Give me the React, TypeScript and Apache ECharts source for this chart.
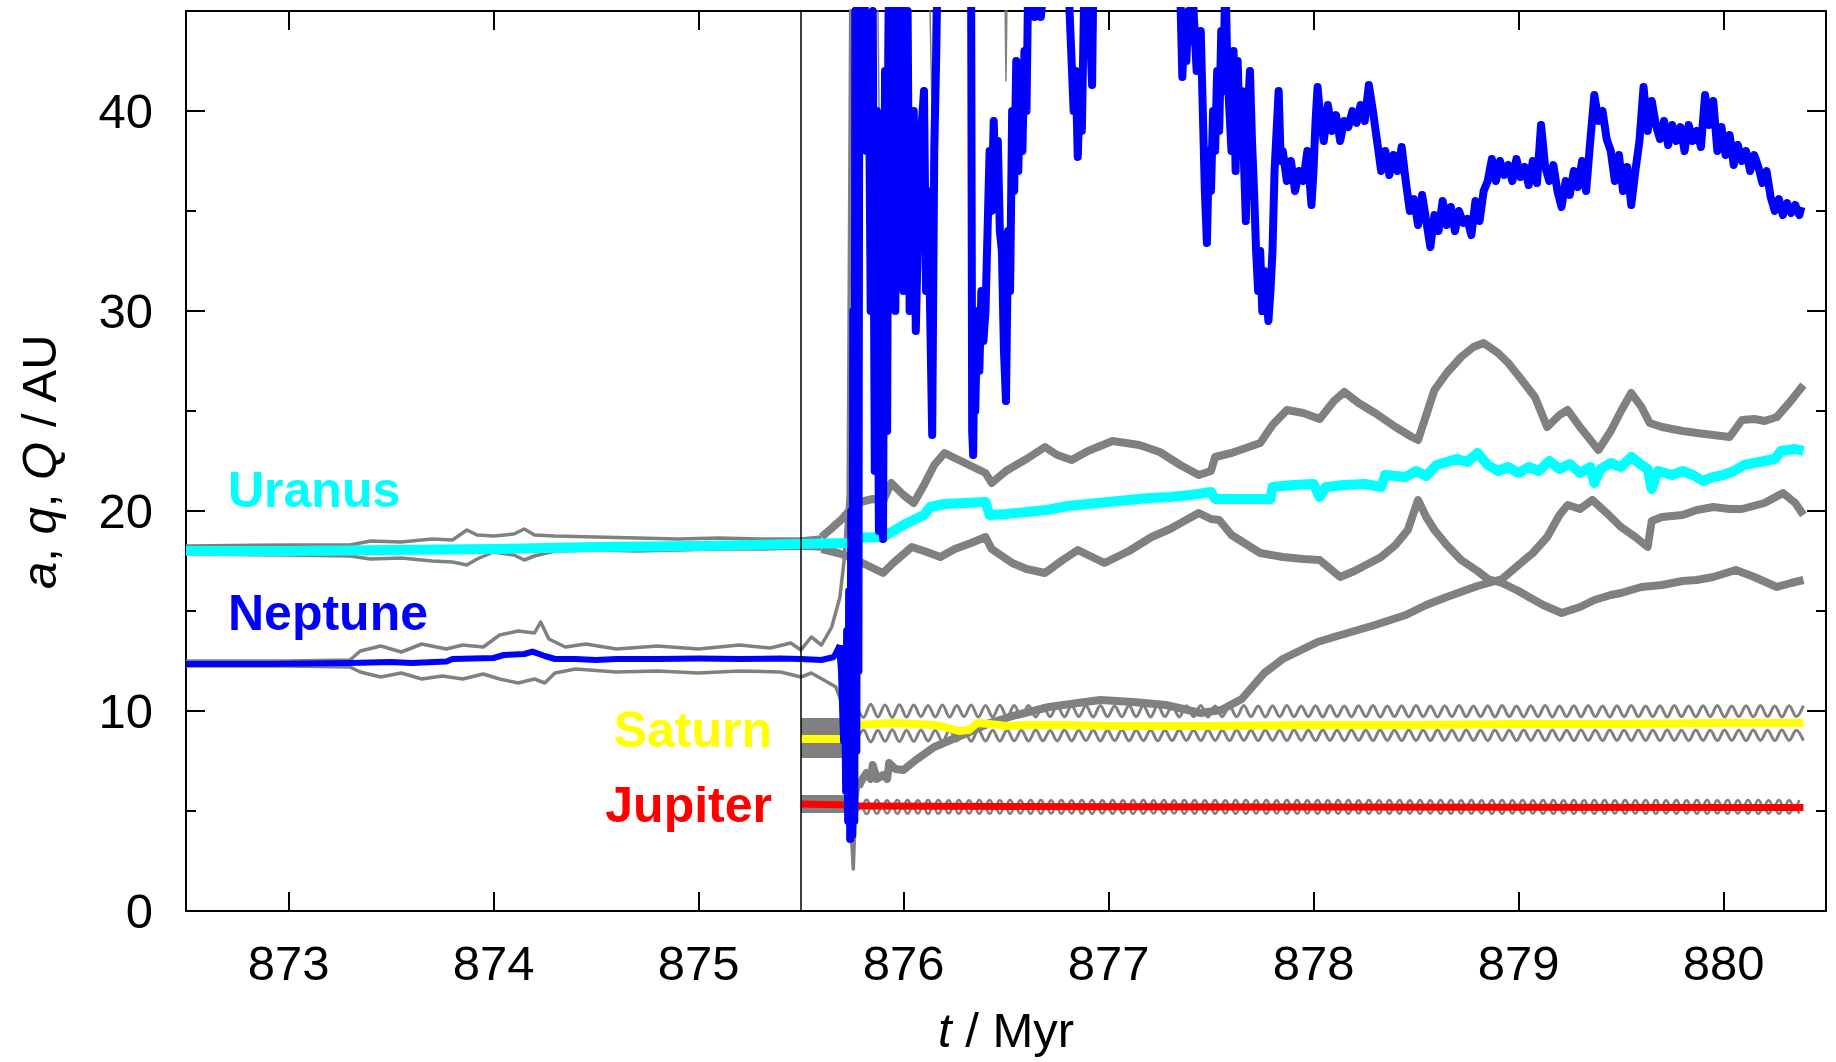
import React, { useEffect, useRef } from "react";
import * as echarts from "echarts";

type P = [number, number];

const FONT = "Liberation Sans";

// ---- axes ----
const xMin = 872.5;
const xMax = 880.5;
const xTicks = [873, 874, 875, 876, 877, 878, 879, 880];
const yMin = 0;
const yMax = 45;
const yLabelValues = [0, 10, 20, 30, 40];
const instabilityTime = 875.5;

// ---- Uranus ----
const uranusA: P[] = [
  [872.5, 18.0], [873.0, 18.0], [873.5, 18.05], [874.0, 18.1], [874.5, 18.2], [875.0, 18.25], [875.5, 18.35], [875.74, 18.4],
  [875.76, 18.65], [875.9, 18.7], [875.95, 19.0], [876.0, 19.3], [876.05, 19.55], [876.1, 19.8], [876.13, 20.2], [876.2, 20.35],
  [876.3, 20.4], [876.4, 20.45], [876.42, 19.8], [876.5, 19.85], [876.6, 19.95], [876.7, 20.05], [876.8, 20.25], [876.9, 20.35],
  [877.0, 20.45], [877.1, 20.55], [877.2, 20.65], [877.3, 20.7], [877.4, 20.8], [877.5, 20.95], [877.52, 20.6], [877.6, 20.6],
  [877.7, 20.6], [877.79, 20.6], [877.8, 21.2], [877.9, 21.3], [878.0, 21.35], [878.03, 20.7], [878.06, 21.2], [878.15, 21.3],
  [878.25, 21.35], [878.33, 21.2], [878.35, 21.8], [878.45, 21.7], [878.5, 22.0], [878.55, 21.75], [878.6, 22.3], [878.65, 22.45],
  [878.7, 22.6], [878.75, 22.45], [878.8, 22.9], [878.85, 22.3], [878.9, 22.0], [878.95, 22.2], [879.0, 21.9], [879.05, 22.2],
  [879.1, 22.0], [879.15, 22.5], [879.2, 22.1], [879.25, 22.35], [879.3, 21.9], [879.35, 22.2], [879.37, 21.4], [879.4, 22.1],
  [879.45, 22.4], [879.5, 22.2], [879.55, 22.7], [879.6, 22.3], [879.63, 22.1], [879.65, 21.1], [879.68, 22.0], [879.75, 21.8],
  [879.8, 22.0], [879.85, 21.8], [879.9, 21.5], [879.95, 21.7], [880.0, 21.8], [880.05, 22.0], [880.1, 22.3], [880.15, 22.4],
  [880.2, 22.5], [880.25, 22.6], [880.28, 23.0], [880.35, 23.1], [880.39, 23.0],
];
const uranusQBefore: P[] = [
  [872.5, 18.25], [873.0, 18.3], [873.3, 18.3], [873.4, 18.5], [873.55, 18.45], [873.7, 18.6], [873.8, 18.55], [873.87, 19.05],
  [873.92, 18.8], [874.0, 18.75], [874.1, 18.85], [874.15, 19.1], [874.2, 18.8], [874.3, 18.75], [874.5, 18.7], [874.7, 18.65],
  [874.9, 18.6], [875.1, 18.65], [875.3, 18.6], [875.5, 18.6], [875.6, 18.7],
];
const uranusQAfter: P[] = [
  [875.6, 18.7], [875.64, 19.05], [875.7, 19.6], [875.77, 20.4], [875.85, 20.6], [875.9, 20.5], [875.94, 21.4], [876.0, 20.8],
  [876.05, 20.4], [876.1, 21.3], [876.15, 22.3], [876.2, 22.9], [876.3, 22.4], [876.4, 21.9], [876.43, 21.4], [876.5, 22.0],
  [876.6, 22.6], [876.69, 23.2], [876.75, 22.8], [876.82, 22.55], [876.9, 23.0], [877.02, 23.5], [877.15, 23.3], [877.25, 22.95],
  [877.35, 22.3], [877.44, 21.8], [877.5, 22.0], [877.52, 22.7], [877.6, 22.9], [877.74, 23.4], [877.8, 24.3], [877.87, 25.05],
  [877.95, 24.9], [878.03, 24.6], [878.1, 25.5], [878.15, 25.95], [878.22, 25.4], [878.3, 24.9], [878.4, 24.2], [878.48, 23.7],
  [878.51, 23.55], [878.55, 24.8], [878.59, 26.05], [878.65, 26.9], [878.72, 27.7], [878.78, 28.2], [878.83, 28.4], [878.9, 27.9],
  [878.95, 27.4], [879.02, 26.5], [879.08, 25.7], [879.14, 24.2], [879.2, 24.8], [879.24, 25.05], [879.3, 24.2], [879.39, 23.05],
  [879.45, 24.0], [879.5, 25.0], [879.55, 25.9], [879.6, 25.2], [879.64, 24.4], [879.7, 24.2], [879.8, 24.0], [879.87, 23.9],
  [879.95, 23.8], [880.03, 23.7], [880.09, 24.55], [880.15, 24.6], [880.2, 24.5], [880.26, 24.7], [880.32, 25.4], [880.39, 26.3],
];
const uranusqBefore: P[] = [
  [872.5, 17.85], [873.0, 17.8], [873.3, 17.75], [873.4, 17.6], [873.55, 17.65], [873.7, 17.5], [873.8, 17.45], [873.87, 17.3],
  [873.92, 17.6], [874.0, 17.95], [874.1, 17.8], [874.15, 17.55], [874.2, 17.75], [874.3, 18.0], [874.5, 18.05], [874.7, 18.0],
  [874.9, 18.05], [875.1, 18.1], [875.3, 18.1], [875.5, 18.15], [875.6, 18.1],
];
const uranusqAfter: P[] = [
  [875.6, 18.1], [875.68, 17.9], [875.74, 17.7], [875.8, 17.4], [875.87, 17.05], [875.9, 16.9], [875.95, 17.4], [876.04, 18.2],
  [876.1, 18.0], [876.18, 17.7], [876.25, 18.1], [876.33, 18.4], [876.4, 18.7], [876.43, 18.1], [876.53, 17.4], [876.6, 17.1],
  [876.69, 16.9], [876.77, 17.5], [876.85, 18.05], [876.92, 17.7], [876.98, 17.4], [877.1, 18.0], [877.21, 18.7], [877.3, 19.1],
  [877.44, 19.9], [877.5, 19.6], [877.54, 19.55], [877.6, 18.8], [877.74, 17.9], [877.85, 17.7], [877.95, 17.6], [878.03, 17.55],
  [878.13, 16.7], [878.2, 17.0], [878.33, 17.7], [878.4, 18.3], [878.46, 19.05], [878.51, 20.55], [878.55, 19.7], [878.59, 19.05],
  [878.65, 18.3], [878.72, 17.55], [878.8, 17.0], [878.85, 16.6], [878.92, 16.4], [879.0, 16.0], [879.05, 15.7], [879.12, 15.3],
  [879.21, 14.9], [879.3, 15.2], [879.37, 15.55], [879.45, 15.8], [879.5, 15.9], [879.6, 16.2], [879.7, 16.3], [879.8, 16.5],
  [879.87, 16.55], [879.95, 16.7], [880.06, 17.05], [880.15, 16.7], [880.26, 16.2], [880.33, 16.4], [880.39, 16.55],
];

// ---- Neptune ----
const neptuneABefore: P[] = [
  [872.5, 12.35], [872.9, 12.35], [873.3, 12.4], [873.5, 12.45], [873.6, 12.4], [873.77, 12.47], [873.8, 12.6], [874.0, 12.65],
  [874.05, 12.8], [874.15, 12.85], [874.19, 12.97], [874.25, 12.75], [874.3, 12.6], [874.4, 12.6], [874.5, 12.55], [874.6, 12.6],
  [874.8, 12.6], [875.0, 12.62], [875.2, 12.6], [875.4, 12.62], [875.5, 12.6], [875.6, 12.55], [875.66, 12.7], [875.69, 13.3],
];
const neptuneAAfter: P[] = [
  [875.69, 13.3], [875.7, 12.0], [875.71, 8.5], [875.715, 13], [875.72, 6], [875.725, 14], [875.73, 4.5], [875.735, 16], [875.74, 3.6],
  [875.745, 20], [875.75, 3.8], [875.755, 30], [875.76, 4.5], [875.765, 45], [875.77, 8], [875.775, 50], [875.78, 12],
  [875.785, 50], [875.79, 48], [875.8, 40], [875.81, 46], [875.82, 38], [875.83, 44], [875.84, 30], [875.85, 45],
  [875.86, 22], [875.87, 40], [875.88, 19], [875.89, 35], [875.9, 18.6], [875.91, 42], [875.92, 24], [875.93, 50],
  [875.94, 32], [875.95, 46], [875.96, 30], [875.97, 44], [875.98, 33], [875.99, 48], [876.0, 31], [876.02, 45],
  [876.03, 30], [876.05, 40], [876.06, 29], [876.08, 38], [876.1, 41], [876.11, 31], [876.12, 36], [876.14, 23.8],
  [876.15, 38], [876.16, 43], [876.17, 50], [876.2, 55], [876.3, 55], [876.33, 46], [876.335, 24], [876.34, 22.8],
  [876.345, 28], [876.35, 25], [876.36, 30], [876.37, 27], [876.38, 31], [876.39, 28.5], [876.4, 30], [876.41, 34],
  [876.42, 38], [876.43, 35], [876.44, 39.5], [876.45, 36], [876.46, 38.5], [876.47, 34], [876.48, 33], [876.49, 28],
  [876.5, 25.5], [876.51, 34], [876.52, 31], [876.53, 40], [876.54, 36], [876.55, 42.5], [876.56, 37], [876.57, 42],
  [876.58, 38], [876.59, 43], [876.6, 40], [876.61, 48], [876.62, 50], [876.64, 44.7], [876.65, 47], [876.67, 44.7],
  [876.69, 47], [876.72, 55], [876.8, 55], [876.81, 45], [876.83, 40], [876.84, 42], [876.85, 37.7], [876.86, 41],
  [876.87, 39], [876.88, 45], [876.89, 50], [876.91, 44], [876.92, 41.3], [876.93, 50], [876.95, 55], [877.3, 55],
  [877.35, 46], [877.36, 41.7], [877.37, 44], [877.38, 42.5], [877.39, 45], [877.4, 43.5], [877.41, 46], [877.43, 42],
  [877.45, 44], [877.46, 40], [877.47, 36], [877.48, 33.4], [877.49, 38], [877.5, 36], [877.51, 40], [877.52, 38],
  [877.53, 42], [877.54, 39], [877.55, 44], [877.56, 41], [877.57, 47], [877.58, 42], [877.6, 38], [877.61, 43],
  [877.62, 37], [877.63, 42.5], [877.64, 39], [877.65, 41], [877.67, 34.5], [877.68, 40], [877.69, 42], [877.7, 38.5],
  [877.71, 36], [877.72, 33], [877.73, 31], [877.74, 33], [877.75, 30], [877.76, 32], [877.78, 29.5], [877.79, 31],
  [877.8, 33], [877.81, 37], [877.82, 39], [877.83, 41], [877.84, 37.5], [877.85, 38], [877.87, 36.5], [877.89, 37.5],
  [877.91, 36], [877.93, 37], [877.95, 36.5], [877.97, 38], [877.99, 35.3], [878.0, 37], [878.01, 39.5], [878.02, 41.2],
  [878.03, 40], [878.05, 38.5], [878.07, 40.3], [878.09, 39], [878.11, 39.8], [878.13, 38.5], [878.15, 39.5], [878.17, 39.2],
  [878.19, 40], [878.21, 39.4], [878.23, 40.3], [878.25, 39.5], [878.27, 41.3], [878.29, 40], [878.31, 38.5], [878.33, 37],
  [878.35, 38], [878.37, 36.8], [878.39, 37.8], [878.41, 37], [878.43, 38.2], [878.45, 36.5], [878.47, 35], [878.49, 35.6],
  [878.51, 34.3], [878.53, 35.8], [878.55, 34.5], [878.57, 33.2], [878.59, 34.8], [878.61, 34], [878.63, 35.5], [878.65, 34.3],
  [878.67, 35.2], [878.69, 34], [878.71, 35], [878.73, 34.4], [878.75, 34.6], [878.77, 33.8], [878.79, 35.5], [878.81, 34.5],
  [878.83, 36], [878.85, 36.5], [878.87, 37.6], [878.89, 36.5], [878.91, 37.5], [878.93, 36.8], [878.95, 37.3], [878.97, 36.5],
  [878.99, 37.6], [879.01, 36.7], [879.03, 37.2], [879.05, 36.3], [879.07, 37.5], [879.09, 36.4], [879.11, 39.3], [879.13, 37.2],
  [879.15, 36.5], [879.17, 37.3], [879.19, 36], [879.21, 35.2], [879.23, 36.5], [879.25, 35.8], [879.27, 37], [879.29, 36.2],
  [879.31, 37.5], [879.33, 36], [879.35, 38.5], [879.37, 40.8], [879.39, 39.5], [879.41, 40], [879.43, 38.6], [879.45, 38],
  [879.47, 36.5], [879.49, 37.8], [879.51, 36], [879.53, 37.2], [879.55, 35.3], [879.57, 37], [879.59, 38.5], [879.61, 41.2],
  [879.63, 39], [879.65, 40.5], [879.67, 39.3], [879.69, 38.6], [879.71, 39.5], [879.73, 38.3], [879.75, 39.3], [879.77, 38.5],
  [879.79, 39.2], [879.81, 38], [879.83, 39.3], [879.85, 38.5], [879.87, 39], [879.89, 38.2], [879.91, 40.8], [879.93, 39.3],
  [879.95, 40.5], [879.97, 38], [879.99, 39.2], [880.01, 37.8], [880.03, 38.8], [880.05, 37.3], [880.07, 38.3], [880.09, 37.5],
  [880.11, 38], [880.13, 37], [880.15, 37.8], [880.17, 37.2], [880.19, 36.4], [880.21, 37], [880.23, 35.7], [880.25, 35],
  [880.27, 35.6], [880.29, 34.8], [880.31, 35.4], [880.33, 34.9], [880.35, 35.3], [880.37, 34.8], [880.38, 35.2],
];
const neptuneQBefore: P[] = [
  [872.5, 12.5], [873.0, 12.5], [873.3, 12.55], [873.35, 13.0], [873.45, 13.25], [873.55, 12.95], [873.65, 13.35], [873.77, 13.1],
  [873.85, 13.3], [873.95, 13.2], [874.03, 13.8], [874.12, 14.0], [874.2, 13.9], [874.23, 14.45], [874.27, 13.6], [874.35, 13.2],
  [874.45, 13.35], [874.6, 13.1], [874.8, 13.25], [875.0, 13.1], [875.2, 13.3], [875.35, 13.15], [875.45, 13.4], [875.5, 13.05],
  [875.55, 13.7], [875.6, 13.3], [875.65, 14.2], [875.69, 15.7], [875.71, 17.5], [875.73, 20.8], [875.745, 50],
];
const neptuneQSpikes: P[] = [
  [875.87, 50], [875.89, 31.5], [875.92, 50], [876.12, 50], [876.14, 39.5], [876.15, 50], [876.49, 50], [876.5, 41.5], [876.51, 50],
];
const neptuneqBefore: P[] = [
  [872.5, 12.25], [873.0, 12.25], [873.3, 12.2], [873.35, 11.95], [873.45, 11.7], [873.55, 11.9], [873.65, 11.6], [873.75, 11.75],
  [873.85, 11.6], [873.95, 11.85], [874.03, 11.6], [874.12, 11.4], [874.2, 11.6], [874.25, 11.4], [874.3, 11.9], [874.4, 12.1],
  [874.6, 11.95], [874.8, 12.0], [875.0, 11.9], [875.2, 12.0], [875.4, 11.95], [875.5, 11.7], [875.55, 11.9], [875.62, 11.5],
  [875.67, 11.2], [875.7, 10.4], [875.72, 8.7], [875.735, 6.5], [875.745, 4], [875.755, 2.1], [875.765, 5], [875.78, 6.2],
];
const neptuneqAfter: P[] = [
  [875.78, 6.2], [875.8, 6.6], [875.82, 6.9], [875.84, 6.6], [875.85, 7.3], [875.87, 6.6], [875.9, 6.8], [875.92, 6.6],
  [875.93, 7.4], [875.96, 7.1], [876.0, 7.05], [876.06, 7.55], [876.15, 8.2], [876.23, 8.55], [876.31, 8.9], [876.42, 9.4],
  [876.55, 9.8], [876.71, 10.2], [876.85, 10.4], [876.96, 10.55], [877.12, 10.45], [877.28, 10.3], [877.45, 9.9], [877.55, 10.05],
  [877.65, 10.6], [877.76, 11.9], [877.85, 12.6], [877.95, 13.1], [878.02, 13.45], [878.1, 13.7], [878.2, 14.0], [878.3, 14.3],
  [878.45, 14.8], [878.55, 15.3], [878.65, 15.7], [878.8, 16.25], [878.92, 16.6], [879.0, 17.3], [879.07, 17.9], [879.14, 18.7],
  [879.2, 19.8], [879.24, 20.3], [879.3, 20.1], [879.36, 20.55], [879.43, 19.9], [879.5, 19.2], [879.57, 18.7], [879.63, 18.2],
  [879.65, 19.5], [879.7, 19.7], [879.8, 19.8], [879.87, 20.05], [879.95, 20.2], [880.03, 20.1], [880.09, 20.1], [880.2, 20.4],
  [880.29, 20.9], [880.35, 20.4], [880.39, 19.8],
];

// ---- Saturn ----
const saturnABefore: P[] = [[875.5, 8.6], [875.72, 8.6]];
const saturnBandBefore: P[] = [[875.5, 8.65], [875.715, 8.65]];
const saturnAAfter: P[] = [
  [875.77, 9.3], [875.85, 9.35], [875.95, 9.4], [876.05, 9.35], [876.15, 9.3], [876.2, 9.2], [876.27, 9.0], [876.32, 9.05],
  [876.36, 9.4], [876.42, 9.35], [876.5, 9.25], [876.6, 9.3], [876.75, 9.3], [877.0, 9.25], [877.5, 9.25], [878.0, 9.3],
  [878.5, 9.3], [879.0, 9.35], [879.5, 9.35], [880.0, 9.4], [880.39, 9.4],
];
const saturnWaveStart = 875.77;
const saturnWaveStep = 0.035;
const saturnQWave = [
  10.32, 9.68, 10.34, 9.70, 10.30, 9.68, 10.31, 9.70, 10.30, 9.72,
  10.28, 9.70, 10.30, 9.70, 10.27, 9.72, 10.30, 9.70, 10.28, 9.71,
  10.29, 9.70, 10.27, 9.72, 10.28, 9.70, 10.26, 9.72, 10.27, 9.71,
  10.28, 9.72, 10.26, 9.70, 10.27, 9.72, 10.25, 9.71, 10.27, 9.72,
  10.26, 9.70, 10.27, 9.72, 10.25, 9.71, 10.26, 9.72, 10.27, 9.70,
  10.25, 9.72, 10.26, 9.71, 10.27, 9.72, 10.25, 9.70, 10.26, 9.72,
  10.27, 9.71, 10.25, 9.72, 10.26, 9.70, 10.27, 9.72, 10.25, 9.71,
  10.26, 9.72, 10.27, 9.70, 10.25, 9.72, 10.26, 9.71, 10.27, 9.72,
  10.25, 9.70, 10.26, 9.72, 10.27, 9.71, 10.25, 9.72, 10.26, 9.70,
  10.27, 9.72, 10.25, 9.71, 10.26, 9.72, 10.27, 9.70, 10.25, 9.72,
  10.26, 9.71, 10.27, 9.72, 10.25, 9.70, 10.26, 9.72, 10.27, 9.71,
  10.25, 9.72, 10.26, 9.70, 10.27, 9.72, 10.25, 9.71, 10.26, 9.72,
  10.27, 9.70, 10.25, 9.72, 10.26, 9.71, 10.27, 9.72, 10.25, 9.70,
  10.26, 9.72, 10.27,
];
const saturnqWave = [
  8.46, 9.05, 8.45, 9.04, 8.48, 9.06, 8.47, 9.04, 8.48, 9.05,
  8.50, 9.04, 8.48, 9.05, 8.50, 9.03, 8.49, 9.05, 8.50, 9.04,
  8.49, 9.05, 8.51, 9.04, 8.50, 9.05, 8.51, 9.03, 8.50, 9.05,
  8.51, 9.04, 8.52, 9.05, 8.50, 9.04, 8.52, 9.05, 8.51, 9.04,
  8.52, 9.05, 8.51, 9.04, 8.52, 9.05, 8.53, 9.04, 8.52, 9.05,
  8.53, 9.04, 8.52, 9.05, 8.53, 9.04, 8.52, 9.05, 8.53, 9.04,
  8.52, 9.05, 8.53, 9.04, 8.52, 9.05, 8.53, 9.04, 8.52, 9.05,
  8.53, 9.04, 8.52, 9.05, 8.53, 9.04, 8.52, 9.05, 8.53, 9.04,
  8.52, 9.05, 8.53, 9.04, 8.52, 9.05, 8.53, 9.04, 8.52, 9.05,
  8.53, 9.04, 8.52, 9.05, 8.53, 9.04, 8.52, 9.05, 8.53, 9.04,
  8.52, 9.05, 8.53, 9.04, 8.52, 9.05, 8.53, 9.04, 8.52, 9.05,
  8.53, 9.04, 8.52, 9.05, 8.53, 9.04, 8.52, 9.05, 8.53, 9.04,
  8.52, 9.05, 8.53, 9.04, 8.52, 9.05, 8.53, 9.04, 8.52, 9.05,
  8.53, 9.04, 8.52,
];

// ---- Jupiter ----
const jupiterABefore: P[] = [[875.5, 5.35], [875.74, 5.3]];
const jupiterBandBefore: P[] = [[875.5, 5.35], [875.725, 5.35]];
const jupiterAAfter: P[] = [[875.76, 5.25], [876.5, 5.22], [878.0, 5.2], [880.39, 5.18]];
const jupiterWaveStart = 875.77;
const jupiterWaveStep = 0.025;
const jupiterQWave = [
  5.55, 5.21, 5.56, 5.20, 5.55, 5.21, 5.54, 5.20, 5.55, 5.21,
  5.55, 5.20, 5.54, 5.21, 5.55, 5.20, 5.55, 5.21, 5.54, 5.20,
  5.55, 5.21, 5.54, 5.20, 5.55, 5.21, 5.55, 5.20, 5.54, 5.21,
  5.55, 5.20, 5.54, 5.21, 5.55, 5.20, 5.55, 5.21, 5.54, 5.20,
  5.55, 5.21, 5.54, 5.20, 5.55, 5.21, 5.55, 5.20, 5.54, 5.21,
  5.55, 5.20, 5.54, 5.21, 5.55, 5.20, 5.55, 5.21, 5.54, 5.20,
  5.55, 5.21, 5.54, 5.20, 5.55, 5.21, 5.55, 5.20, 5.54, 5.21,
  5.55, 5.20, 5.54, 5.21, 5.55, 5.20, 5.55, 5.21, 5.54, 5.20,
  5.55, 5.21, 5.54, 5.20, 5.55, 5.21, 5.55, 5.20, 5.54, 5.21,
  5.55, 5.20, 5.54, 5.21, 5.55, 5.20, 5.55, 5.21, 5.54, 5.20,
  5.55, 5.21, 5.54, 5.20, 5.55, 5.21, 5.55, 5.20, 5.54, 5.21,
  5.55, 5.20, 5.54, 5.21, 5.55, 5.20, 5.55, 5.21, 5.54, 5.20,
  5.55, 5.21, 5.54, 5.20, 5.55, 5.21, 5.55, 5.20, 5.54, 5.21,
  5.55, 5.20, 5.54, 5.21, 5.55, 5.20, 5.55, 5.21, 5.54, 5.20,
  5.55, 5.21, 5.54, 5.20, 5.55, 5.21, 5.55, 5.20, 5.54, 5.21,
  5.55, 5.20, 5.54, 5.21, 5.55, 5.20, 5.55, 5.21, 5.54, 5.20,
  5.55, 5.21, 5.54, 5.20, 5.55, 5.21, 5.55, 5.20, 5.54, 5.21,
  5.55, 5.20, 5.54, 5.21, 5.55, 5.20, 5.55, 5.21, 5.54, 5.20,
  5.55, 5.21, 5.54, 5.20, 5.55,
];
const jupiterqWave = [
  4.86, 5.19, 4.85, 5.20, 4.86, 5.19, 4.87, 5.20, 4.86, 5.19,
  4.86, 5.20, 4.87, 5.19, 4.86, 5.20, 4.86, 5.19, 4.87, 5.20,
  4.86, 5.19, 4.87, 5.20, 4.86, 5.19, 4.86, 5.20, 4.87, 5.19,
  4.86, 5.20, 4.87, 5.19, 4.86, 5.20, 4.86, 5.19, 4.87, 5.20,
  4.86, 5.19, 4.87, 5.20, 4.86, 5.19, 4.86, 5.20, 4.87, 5.19,
  4.86, 5.20, 4.87, 5.19, 4.86, 5.20, 4.86, 5.19, 4.87, 5.20,
  4.86, 5.19, 4.87, 5.20, 4.86, 5.19, 4.86, 5.20, 4.87, 5.19,
  4.86, 5.20, 4.87, 5.19, 4.86, 5.20, 4.86, 5.19, 4.87, 5.20,
  4.86, 5.19, 4.87, 5.20, 4.86, 5.19, 4.86, 5.20, 4.87, 5.19,
  4.86, 5.20, 4.87, 5.19, 4.86, 5.20, 4.86, 5.19, 4.87, 5.20,
  4.86, 5.19, 4.87, 5.20, 4.86, 5.19, 4.86, 5.20, 4.87, 5.19,
  4.86, 5.20, 4.87, 5.19, 4.86, 5.20, 4.86, 5.19, 4.87, 5.20,
  4.86, 5.19, 4.87, 5.20, 4.86, 5.19, 4.86, 5.20, 4.87, 5.19,
  4.86, 5.20, 4.87, 5.19, 4.86, 5.20, 4.86, 5.19, 4.87, 5.20,
  4.86, 5.19, 4.87, 5.20, 4.86, 5.19, 4.86, 5.20, 4.87, 5.19,
  4.86, 5.20, 4.87, 5.19, 4.86, 5.20, 4.86, 5.19, 4.87, 5.20,
  4.86, 5.19, 4.87, 5.20, 4.86, 5.19, 4.86, 5.20, 4.87, 5.19,
  4.86, 5.20, 4.87, 5.19, 4.86, 5.20, 4.86, 5.19, 4.87, 5.20,
  4.86, 5.19, 4.87, 5.20, 4.86,
];

// ---- labels ----
const planetLabels = [
  { name: "Uranus", color: "#00ffff" },
  { name: "Neptune", color: "#0000ff" },
  { name: "Saturn", color: "#ffff00" },
  { name: "Jupiter", color: "#ff0000" },
];

const GREY = "#808080";

function sampled(start: number, step: number, values: number[]): P[] {
  return values.map((v, i) => [start + i * step, v] as P);
}

function lineSeries(data: P[], color: string, width: number, extra: any = {}) {
  return {
    type: "line",
    data,
    showSymbol: false,
    symbol: "none",
    silent: true,
    animation: false,
    clip: true,
    emphasis: { disabled: true },
    lineStyle: { color, width, cap: "butt", join: "round" },
    itemStyle: { color },
    z: 2,
    ...extra,
  };
}

function yAxisDef(position: string, interval: number, tickLen: number, showLine: boolean, showLabel: boolean) {
  return {
    type: "value",
    min: yMin,
    max: yMax,
    interval,
    position,
    axisLine: { show: showLine, onZero: false, lineStyle: { color: "#000", width: 2 } },
    axisTick: { show: true, inside: true, length: tickLen, lineStyle: { color: "#000", width: 2 } },
    axisLabel: {
      show: showLabel,
      margin: 33,
      fontSize: 49,
      fontFamily: FONT,
      color: "#000",
      formatter: (v: number) => (yLabelValues.includes(v) ? String(v) : ""),
    },
    splitLine: { show: false },
  };
}

function xAxisDef(position: string, showLabel: boolean) {
  return {
    type: "value",
    min: xMin,
    max: xMax,
    position,
    axisLine: { show: true, onZero: false, lineStyle: { color: "#000", width: 2 } },
    axisTick: { show: true, inside: true, length: 19, customValues: xTicks, lineStyle: { color: "#000", width: 2 } },
    axisLabel: { show: showLabel, customValues: xTicks, margin: 27, fontSize: 49, fontFamily: FONT, color: "#000" },
    splitLine: { show: false },
  };
}

export default function App() {
  const ref = useRef<HTMLDivElement>(null);
  useEffect(() => {
    document.body.style.margin = "0";
    document.body.style.overflow = "hidden";
    if (!ref.current) return;
    const chart = echarts.init(ref.current, null, { renderer: "svg" });

    const textEl = (x: number, y: number, text: string, color: string, align: string) => ({
      type: "text",
      x,
      y,
      silent: true,
      style: {
        text,
        fill: color,
        fontSize: 50,
        fontWeight: "bold",
        fontFamily: FONT,
        align,
        verticalAlign: "middle",
        textAlign: align,
        textVerticalAlign: "middle",
      },
    });

    chart.setOption({
      animation: false,
      backgroundColor: "#fff",
      textStyle: { fontFamily: FONT },
      grid: { left: 186, right: 10, top: 11, bottom: 151, containLabel: false, outerBoundsMode: "none" },
      xAxis: [xAxisDef("bottom", true), xAxisDef("top", false)],
      yAxis: [
        yAxisDef("left", 10, 19, true, true),
        yAxisDef("left", 5, 10, false, false),
        yAxisDef("right", 10, 19, true, false),
        yAxisDef("right", 5, 10, false, false),
      ],
      series: [
        lineSeries(saturnBandBefore, GREY, 40, {
          markLine: {
            silent: true,
            symbol: "none",
            label: { show: false },
            lineStyle: { color: "#000", width: 1.5, type: "solid" },
            data: [{ xAxis: instabilityTime }],
            animation: false,
          },
        }),
        lineSeries(jupiterBandBefore, GREY, 18),
        lineSeries(uranusQBefore, GREY, 3.5),
        lineSeries(uranusqBefore, GREY, 3.5),
        lineSeries(uranusQAfter, GREY, 8),
        lineSeries(uranusqAfter, GREY, 8),
        lineSeries(neptuneQBefore, GREY, 3.5),
        lineSeries(neptuneqBefore, GREY, 3.5),
        lineSeries(neptuneQSpikes, GREY, 1.5),
        lineSeries(neptuneqAfter, GREY, 8),
        lineSeries(sampled(saturnWaveStart, saturnWaveStep, saturnQWave), GREY, 3, { smooth: 0.35 }),
        lineSeries(sampled(saturnWaveStart, saturnWaveStep, saturnqWave), GREY, 3, { smooth: 0.35 }),
        lineSeries(sampled(jupiterWaveStart, jupiterWaveStep, jupiterQWave), GREY, 2.5, { smooth: 0.5 }),
        lineSeries(sampled(jupiterWaveStart, jupiterWaveStep, jupiterqWave), GREY, 2.5, { smooth: 0.5 }),
        lineSeries(saturnABefore, "#ffff00", 8),
        lineSeries(saturnAAfter, "#ffff00", 8),
        lineSeries(jupiterABefore, "#ff0000", 7),
        lineSeries(jupiterAAfter, "#ff0000", 7),
        lineSeries(uranusA, "#00ffff", 10),
        lineSeries(neptuneABefore, "#0000ff", 6),
        lineSeries(neptuneAAfter, "#0000ff", 8),
      ],
      graphic: {
        elements: [
          textEl(228, 490, planetLabels[0].name, planetLabels[0].color, "left"),
          textEl(228, 613, planetLabels[1].name, planetLabels[1].color, "left"),
          textEl(772, 730, planetLabels[2].name, planetLabels[2].color, "right"),
          textEl(772, 805, planetLabels[3].name, planetLabels[3].color, "right"),
          {
            type: "text",
            x: 39,
            y: 461,
            rotation: Math.PI / 2,
            silent: true,
            style: {
              text: "{i|a}, {i|q}, {i|Q} / AU",
              fill: "#000",
              fontSize: 49,
              fontFamily: FONT,
              align: "center",
              verticalAlign: "middle",
              textAlign: "center",
              textVerticalAlign: "middle",
              rich: { i: { fontStyle: "italic", fontSize: 49, fontFamily: FONT, fill: "#000" } },
            },
          },
          {
            type: "text",
            x: 1006,
            y: 1030,
            silent: true,
            style: {
              text: "{i|t} / Myr",
              fill: "#000",
              fontSize: 49,
              fontFamily: FONT,
              align: "center",
              verticalAlign: "middle",
              textAlign: "center",
              textVerticalAlign: "middle",
              rich: { i: { fontStyle: "italic", fontSize: 49, fontFamily: FONT, fill: "#000" } },
            },
          },
        ],
      },
    });
    return () => chart.dispose();
  }, []);
  return <div ref={ref} style={{ width: 1836, height: 1062 }} />;
}
